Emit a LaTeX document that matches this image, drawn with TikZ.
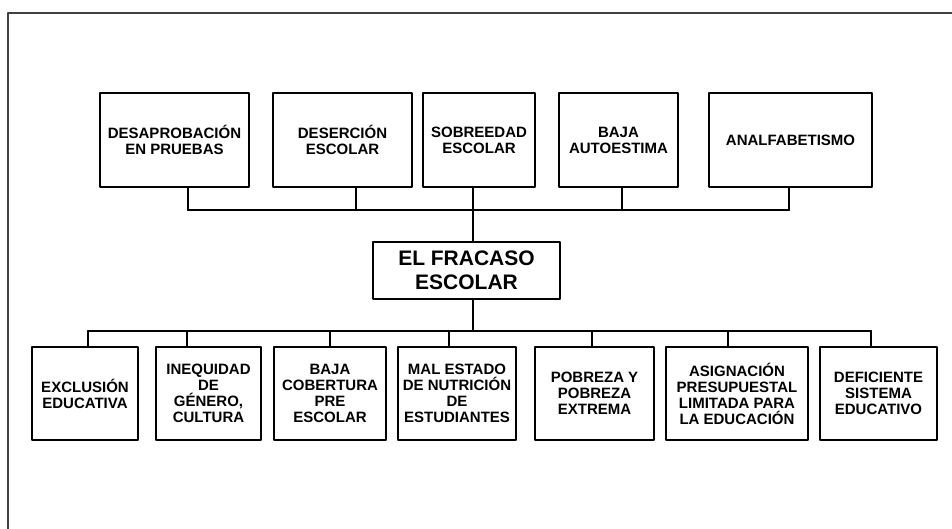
\documentclass[tikz,border=0pt]{standalone}
\usepackage{fontspec}
\setmainfont{Liberation Sans}
\begin{document}
\begin{tikzpicture}[x=1pt,y=-1pt,line join=round,line cap=round,
	hop/.style={draw,line width=2pt,inner sep=0pt,align=center,font=\bfseries\fontsize{15}{16}\selectfont},
	noi/.style={line width=2pt}]
	\useasboundingbox (0,0) rectangle (952,529);
	%Marco
	\draw[line width=1.5pt,black!75] (8,529) -- (8,13) -- (952,13);
	%Consecuencias
	\foreach \t/\l/\r/\s/\g in {t1/100/249/188/{DESAPROBACIÓN\\EN PRUEBAS},
		t2/273/412/356/{DESERCIÓN\\ESCOLAR},
		t3/423/535/473/{SOBREEDAD\\ESCOLAR},
		t4/559/678/622/{BAJA\\AUTOESTIMA},
		t5/709/872/789/{ANALFABETISMO}}{
		\node[hop,minimum width={(\r-\l)*1pt},minimum height=94pt] (\t) at ({(\l+\r)/2},140) {\g};
		\coordinate (s\t) at (\s,210);
		\draw[noi] (\t.south -| s\t) -- (s\t);}
	\draw[noi] (st1) -- (st5);
	%Problema central
	\node[hop,font=\bfseries\fontsize{21}{24}\selectfont,minimum width=187pt,minimum height=57pt] (fracaso) at (466.5,270.5) {EL FRACASO\\ESCOLAR};
	\draw[noi] (st3) -- (fracaso.north -| st3);
	\coordinate (cb) at (473,331);
	\draw[noi] (fracaso.south -| cb) -- (cb);
	%Causas
	\foreach \t/\l/\r/\s/\g in {b1/32/138/88/{EXCLUSIÓN\\EDUCATIVA},
		b2/156/261/187/{INEQUIDAD\\DE\\GÉNERO,\\CULTURA},
		b3/274/386/330/{BAJA\\COBERTURA\\PRE\\ESCOLAR},
		b4/398/516/449/{MAL ESTADO\\DE NUTRICIÓN\\DE\\ESTUDIANTES},
		b5/535/654/592/{POBREZA Y\\POBREZA\\EXTREMA},
		b6/666/808/728/{ASIGNACIÓN\\PRESUPUESTAL\\LIMITADA PARA\\LA EDUCACIÓN},
		b7/820/937/871/{DEFICIENTE\\SISTEMA\\EDUCATIVO}}{
		\node[hop,minimum width={(\r-\l)*1pt},minimum height=93pt] (\t) at ({(\l+\r)/2},393.5) {\g};
		\coordinate (s\t) at (\s,331);
		\draw[noi] (s\t) -- (\t.north -| s\t);}
	\draw[noi] (sb1) -- (sb7);
\end{tikzpicture}
\end{document}
